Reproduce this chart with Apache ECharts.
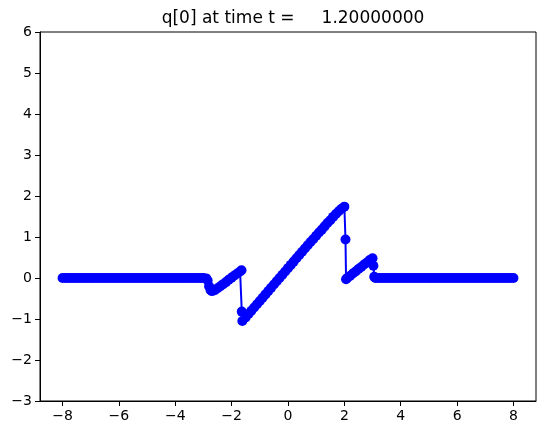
<!DOCTYPE html>
<html>
<head>
<meta charset="utf-8">
<script src="https://cdn.jsdelivr.net/npm/echarts@6/dist/echarts.min.js"></script>
<style>
  html, body { margin: 0; padding: 0; background: #fff; }
  #main { width: 546px; height: 435px; }
</style>
</head>
<body>
<div id="main"></div>
<script>
// q[0] at t = 1.2 as [x, q] pairs
var q0 = [
  [-8.0, 0], [-7.9, 0], [-7.8, 0], [-7.7, 0], [-7.6, 0], [-7.5, 0], [-7.4, 0], [-7.3, 0], [-7.2, 0], [-7.1, 0],
  [-7.0, 0], [-6.9, 0], [-6.8, 0], [-6.7, 0], [-6.6, 0], [-6.5, 0], [-6.4, 0], [-6.3, 0], [-6.2, 0], [-6.1, 0],
  [-6.0, 0], [-5.9, 0], [-5.8, 0], [-5.7, 0], [-5.6, 0], [-5.5, 0], [-5.4, 0], [-5.3, 0], [-5.2, 0], [-5.1, 0],
  [-5.0, 0], [-4.9, 0], [-4.8, 0], [-4.7, 0], [-4.6, 0], [-4.5, 0], [-4.4, 0], [-4.3, 0], [-4.2, 0], [-4.1, 0],
  [-4.0, 0], [-3.9, 0], [-3.8, 0], [-3.7, 0], [-3.6, 0], [-3.5, 0], [-3.4, 0], [-3.3, 0], [-3.2, 0], [-3.1, 0],
  [-3.0, 0], [-2.9, -0.01], [-2.85, -0.06], [-2.8, -0.2], [-2.75, -0.29], [-2.7, -0.32], [-2.6, -0.3],
  [-2.5, -0.25], [-2.4, -0.2], [-2.3, -0.15], [-2.2, -0.1], [-2.1, -0.04], [-2.0, 0.01], [-1.9, 0.06],
  [-1.8, 0.11], [-1.7, 0.16], [-1.65, 0.19], [-1.64, -0.82], [-1.62, -1.05],
  [-1.5, -0.96], [-1.4, -0.88], [-1.3, -0.8], [-1.2, -0.72], [-1.1, -0.64], [-1.0, -0.56], [-0.9, -0.48],
  [-0.8, -0.4], [-0.7, -0.32], [-0.6, -0.24], [-0.5, -0.16], [-0.4, -0.08], [-0.3, 0.0], [-0.2, 0.08],
  [-0.1, 0.16], [0.0, 0.24], [0.1, 0.32], [0.2, 0.4], [0.3, 0.48], [0.4, 0.56], [0.5, 0.64], [0.6, 0.72],
  [0.7, 0.8], [0.8, 0.88], [0.9, 0.95], [1.0, 1.03], [1.1, 1.11], [1.2, 1.18], [1.3, 1.26], [1.4, 1.34],
  [1.5, 1.41], [1.6, 1.49], [1.7, 1.56], [1.8, 1.63], [1.9, 1.69], [2.0, 1.74], [2.04, 0.94], [2.06, -0.03],
  [2.1, 0.0], [2.2, 0.05], [2.3, 0.11], [2.4, 0.16], [2.5, 0.22], [2.6, 0.27], [2.7, 0.33], [2.8, 0.38],
  [2.9, 0.44], [3.0, 0.48], [3.03, 0.3], [3.06, 0.03],
  [3.1, 0], [3.2, 0], [3.3, 0], [3.4, 0], [3.5, 0], [3.6, 0], [3.7, 0], [3.8, 0], [3.9, 0],
  [4.0, 0], [4.1, 0], [4.2, 0], [4.3, 0], [4.4, 0], [4.5, 0], [4.6, 0], [4.7, 0], [4.8, 0], [4.9, 0],
  [5.0, 0], [5.1, 0], [5.2, 0], [5.3, 0], [5.4, 0], [5.5, 0], [5.6, 0], [5.7, 0], [5.8, 0], [5.9, 0],
  [6.0, 0], [6.1, 0], [6.2, 0], [6.3, 0], [6.4, 0], [6.5, 0], [6.6, 0], [6.7, 0], [6.8, 0], [6.9, 0],
  [7.0, 0], [7.1, 0], [7.2, 0], [7.3, 0], [7.4, 0], [7.5, 0], [7.6, 0], [7.7, 0], [7.8, 0], [7.9, 0],
  [8.0, 0]
]

var xTicks = [-8, -6, -4, -2, 0, 2, 4, 6, 8]
var yTicks = [-3, -2, -1, 0, 1, 2, 3, 4, 5, 6]
var titleText = 'q[0] at time t =     1.20000000'

var font = 'DejaVu Sans'
// matplotlib style minus sign
function fmt(v) {
  return String(v).replace('-', '\u2212')
}

var chart = echarts.init(document.getElementById('main'), null, { renderer: 'canvas' })

var option = {
  animation: false,
  backgroundColor: '#fff',
  title: {
    text: titleText,
    left: 288,
    top: 5,
    textAlign: 'center',
    textStyle: { fontFamily: font, fontSize: 17, fontWeight: 'normal', color: '#000' }
  },
  grid: {
    left: 40,
    right: 10,
    top: 32,
    bottom: 34,
    show: true,
    borderColor: '#000',
    borderWidth: 1,
    backgroundColor: 'transparent'
  },
  xAxis: {
    type: 'value',
    min: -8.8,
    max: 8.8,
    axisLine: { show: true, onZero: false, lineStyle: { color: '#000', width: 1 } },
    axisTick: { show: true, inside: false, length: 5, customValues: xTicks, lineStyle: { color: '#000' } },
    axisLabel: {
      customValues: xTicks,
      margin: 8,
      color: '#000',
      fontFamily: font,
      fontSize: 14,
      formatter: fmt
    },
    splitLine: { show: false }
  },
  yAxis: {
    type: 'value',
    min: -3,
    max: 6,
    axisLine: { show: true, onZero: false, lineStyle: { color: '#000', width: 1 } },
    axisTick: { show: true, inside: false, length: 5, customValues: yTicks, lineStyle: { color: '#000' } },
    axisLabel: {
      customValues: yTicks,
      margin: 8,
      color: '#000',
      fontFamily: font,
      fontSize: 14,
      formatter: fmt
    },
    splitLine: { show: false }
  },
  series: [
    {
      type: 'line',
      data: q0,
      symbol: 'circle',
      symbolSize: 10,
      showAllSymbol: true,
      itemStyle: { color: '#0000ff' },
      lineStyle: { color: '#0000ff', width: 2 },
      emphasis: { disabled: true }
    }
  ]
}

chart.setOption(option)
</script>
</body>
</html>
